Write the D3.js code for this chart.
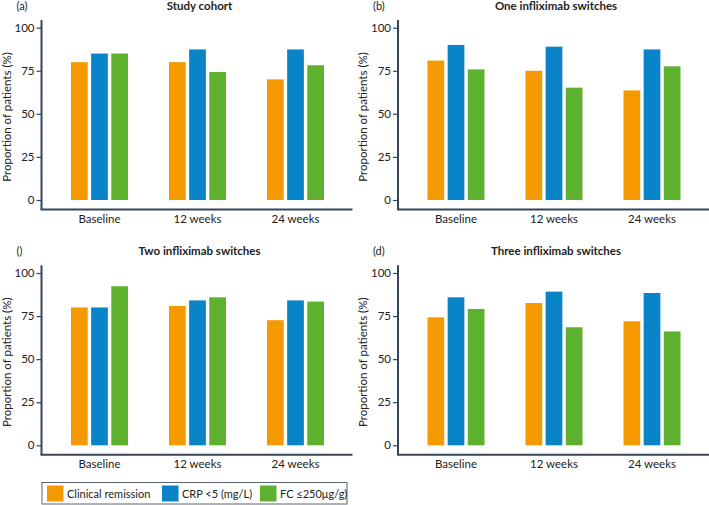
<!DOCTYPE html>
<html><head><meta charset="utf-8">
<script src="https://cdn.jsdelivr.net/npm/d3@7"></script>
<style>
html,body{margin:0;padding:0;background:#fff;}
svg{display:block;font-family:Lato,"Noto Sans",sans-serif;}
</style></head>
<body>
<svg id="chart" width="709" height="505"></svg>
<script>
const categories = ["Baseline", "12 weeks", "24 weeks"];
const seriesNames = ["Clinical remission", "CRP <5 (mg/L)", "FC \u2264250\u03bcg/g)"];
const seriesColors = ["#F49A00", "#0A84C8", "#5EB12F"];
const yTicks = [0, 25, 50, 75, 100];
const panelLabels = ["(a)", "(b)", "()", "(d)"];
const panelTitles = ["Study cohort", "One infliximab switches", "Two infliximab switches", "Three infliximab switches"];
// values per panel: [category][series]
const studyCohort = [[80, 85, 85], [80, 87.4, 74.3], [70, 87.4, 78.2]];
const oneSwitch   = [[80.9, 90, 75.8], [75, 89, 65.2], [63.6, 87.4, 77.6]];
const twoSwitch   = [[80, 80, 92.3], [80.9, 84.1, 85.9], [72.6, 84.1, 83.4]];
const threeSwitch = [[74.3, 85.9, 79.1], [82.6, 89.2, 68.5], [72, 88.4, 66.1]];
const panelData = [studyCohort, oneSwitch, twoSwitch, threeSwitch];

const svg = d3.select("#chart");
const axisColor = "#34475a";
const textColor = "#222";

const panelOrigins = [[41.5, 0], [398, 0], [41.5, 245.3], [398, 245.3]];

panelData.forEach((data, i) => {
  const [ox, oy] = panelOrigins[i];
  const g = svg.append("g");
  const y = d3.scaleLinear().domain([0, 100]).range([oy + 200, oy + 27.7]);
  const yTop = oy + 20, yBot = oy + 209.5;
  const x = d3.scaleBand().domain(categories).range([ox + 9, ox + 303]).paddingInner(0).paddingOuter(0);
  const xs = d3.scaleBand().domain(seriesNames).range([-28.5, 28.5]).paddingInner(0.17).paddingOuter(0);

  // bars
  categories.forEach((c, ci) => {
    const cx = x(c) + x.bandwidth() / 2;
    g.selectAll(null).data(data[ci]).enter().append("rect")
      .attr("x", (d, si) => cx + xs(seriesNames[si]))
      .attr("width", xs.bandwidth())
      .attr("y", d => y(d))
      .attr("height", d => y(0) - y(d))
      .attr("fill", (d, si) => seriesColors[si]);
  });

  // y axis
  const ya = g.append("g").attr("transform", `translate(${ox},0)`)
    .call(d3.axisLeft(y).tickValues(yTicks).tickSize(5).tickPadding(2));
  ya.select(".domain").remove();
  ya.selectAll(".tick line").attr("stroke", axisColor).attr("stroke-width", 1.2);
  ya.selectAll(".tick text").attr("fill", textColor).style("font-size", "11.5px").style("font-family", "Lato, sans-serif");
  g.append("line").attr("x1", ox).attr("x2", ox).attr("y1", yTop).attr("y2", yBot)
    .attr("stroke", axisColor).attr("stroke-width", 2);

  // x axis
  const xa = g.append("g").attr("transform", `translate(0,${yBot})`)
    .call(d3.axisBottom(x).tickSize(0).tickPadding(5));
  xa.select(".domain").remove();
  xa.selectAll(".tick text").attr("fill", textColor).style("font-size", "11.5px").style("font-family", "Lato, sans-serif");
  g.append("line").attr("x1", ox - 1).attr("x2", ox + 311).attr("y1", yBot).attr("y2", yBot)
    .attr("stroke", axisColor).attr("stroke-width", 2);

  // y label
  g.append("text")
    .attr("transform", `translate(${ox - 31},${oy + 117}) rotate(-90)`)
    .attr("text-anchor", "middle")
    .attr("fill", textColor)
    .style("font-size", "11.5px")
    .text("Proportion of patients (%)");

  // title
  g.append("text").attr("x", ox + 158).attr("y", oy + 10)
    .attr("text-anchor", "middle").attr("fill", "#222")
    .style("font-size", "11.5px").style("font-weight", "bold")
    .text(panelTitles[i]);
  g.append("text").attr("x", ox - 25).attr("y", oy + 10)
    .attr("fill", textColor).style("font-size", "11px")
    .text(panelLabels[i]);
});

// legend
const lg = svg.append("g");
lg.append("rect").attr("x", 42).attr("y", 482.5).attr("width", 305).attr("height", 21.5)
  .attr("fill", "none").attr("stroke", "#5a6470").attr("stroke-width", 1);
const legX = [47, 162, 260];
seriesNames.forEach((s, i) => {
  lg.append("rect").attr("x", legX[i]).attr("y", 485.5).attr("width", 16.5).attr("height", 16)
    .attr("fill", seriesColors[i]);
  lg.append("text").attr("x", legX[i] + 20).attr("y", 497.5)
    .attr("fill", textColor).style("font-size", "11px").text(s);
});
</script>
</body></html>
